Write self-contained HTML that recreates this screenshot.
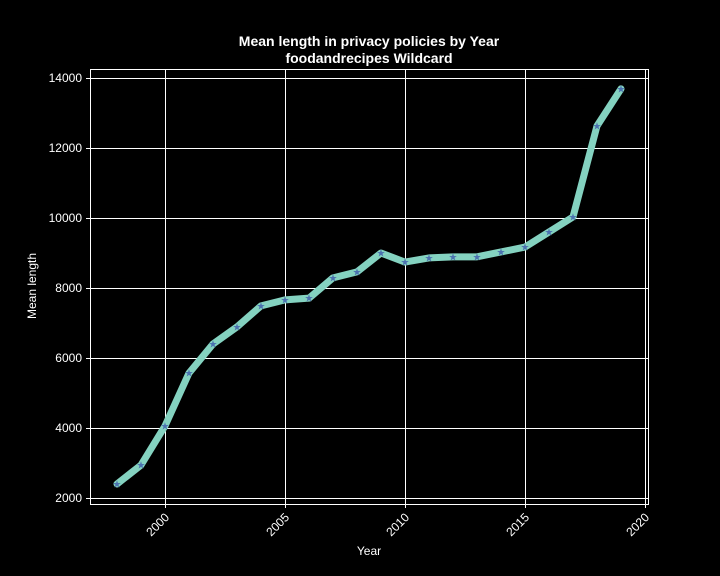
<!DOCTYPE html>
<html><head><meta charset="utf-8"><style>
html,body{margin:0;padding:0;background:#000;}
svg{display:block;font-family:"Liberation Sans","DejaVu Sans",sans-serif;}
</style></head><body>
<svg id="chart" width="720" height="576" viewBox="0 0 720 576" xmlns="http://www.w3.org/2000/svg">
<rect width="720" height="576" fill="#000"/>
<text x="369" y="46" fill="#fff" font-size="14" font-weight="bold" text-anchor="middle">Mean length in privacy policies by Year</text>
<text x="369" y="63" fill="#fff" font-size="14" font-weight="bold" text-anchor="middle">foodandrecipes Wildcard</text>
<g id="grid"></g>
<g id="series"></g>
<rect x="90.5" y="69.5" width="558" height="435" fill="none" stroke="#fff" stroke-width="1"/>
<g id="ticks"></g>
<text x="369" y="555" fill="#fff" font-size="12" text-anchor="middle">Year</text>
<text transform="translate(36,286) rotate(-90)" fill="#fff" font-size="12" text-anchor="middle">Mean length</text>
</svg>
<script>
const years=[1998,1999,2000,2001,2002,2003,2004,2005,2006,2007,2008,2009,2010,2011,2012,2013,2014,2015,2016,2017,2018,2019];
const meanLength=[2400,2940,4060,5570,6400,6890,7490,7660,7710,8290,8460,9000,8740,8860,8890,8890,9030,9170,9600,10030,12630,13690];
const xTicks=[2000,2005,2010,2015,2020];
const yTicks=[2000,4000,6000,8000,10000,12000,14000];
const NS="http://www.w3.org/2000/svg";
function xs(v){return 165+(v-2000)*24;}
function ys(v){return 498-(v-2000)*0.035;}
function mk(tag,attrs,parent){const e=document.createElementNS(NS,tag);for(const k in attrs)e.setAttribute(k,attrs[k]);parent.appendChild(e);return e;}
const grid=document.getElementById('grid'),ticks=document.getElementById('ticks'),series=document.getElementById('series');
xTicks.forEach(t=>{
  const px=Math.round(xs(t))+0.5;
  const g=mk('line',{x1:px,x2:px,y1:69,y2:504,stroke:'#fff','stroke-width':1},grid);
  
  
  const tk=mk('line',{x1:px,x2:px,y1:504,y2:508,stroke:'#fff'},ticks);
  
  
  const tx=mk('text',{x:0,y:0,fill:'#fff','font-size':12,'text-anchor':'end',transform:`translate(${xs(t)+5},${518}) rotate(-45)`},ticks);
  tx.textContent=t;
  
  
});
yTicks.forEach(t=>{
  const py=Math.round(ys(t))+0.5;
  const g=mk('line',{x1:90,x2:648,y1:py,y2:py,stroke:'#fff','stroke-width':1},grid);
  
  
  const tk=mk('line',{x1:86,x2:90,y1:py,y2:py,stroke:'#fff'},ticks);
  
  
  const tx=mk('text',{x:82,y:ys(t)+4,fill:'#fff','font-size':12,'text-anchor':'end'},ticks);
  tx.textContent=t;
  
  
});
const pts=years.map((y,i)=>xs(y)+','+ys(meanLength[i])).join(' ');
const line=mk('polyline',{points:pts,fill:'none',stroke:'#84d2c0','stroke-width':7,'stroke-linejoin':'round','stroke-linecap':'round'},series);


years.forEach((y,i)=>{
  const m=mk('text',{x:xs(y),y:ys(meanLength[i])+3.5,fill:'#4c72b0','font-size':10,'text-anchor':'middle'},series);
  m.textContent='★';
  
  
});
</script>
</body></html>
